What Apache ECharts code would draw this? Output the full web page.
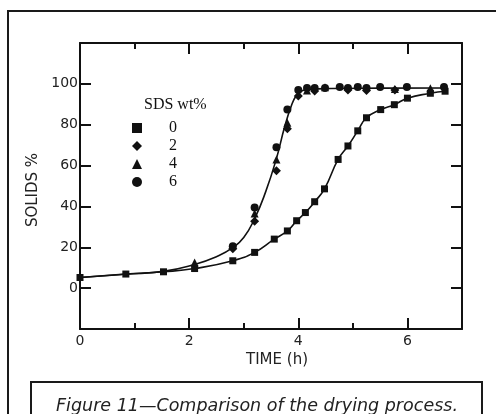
<!DOCTYPE html>
<html>
<head>
<meta charset="utf-8">
<script src="https://cdn.jsdelivr.net/npm/echarts@6/dist/echarts.min.js"></script>
<style>
html,body{margin:0;padding:0;background:#fff;}
#chart{width:496px;height:414px;}
</style>
</head>
<body>
<div id="chart"></div>
<script>
// ---- data ----
var xTicks = [0, 2, 4, 6];
var yTicks = [0, 20, 40, 60, 80, 100];
var legendTitle = 'SDS wt%';
var seriesNames = ['0', '2', '4', '6'];

// SDS 0 wt% (squares, slow drying)
var t0 = [0, 0.84, 1.53, 2.1, 2.8, 3.2, 3.56, 3.8, 3.97, 4.13, 4.3, 4.48, 4.73, 4.91, 5.09, 5.25, 5.51, 5.76, 6.0, 6.42, 6.69];
var s0 = [5.2, 6.9, 8.0, 9.6, 13.4, 17.5, 24.0, 28.0, 33.0, 37.0, 42.3, 48.6, 63.0, 69.6, 77.0, 83.4, 87.4, 89.8, 93.0, 95.4, 96.4];

// SDS 2 wt% (diamonds)
var t2 = [2.8, 3.2, 3.6, 3.8, 4.0, 4.3, 4.91, 5.25, 5.77];
var s2 = [19.3, 32.7, 57.5, 78.0, 94.0, 96.5, 97.0, 96.8, 97.0];

// SDS 4 wt% (triangles)
var t4 = [2.1, 3.2, 3.6, 3.8, 4.16, 4.49, 5.77, 6.42];
var s4 = [12.5, 36.5, 63.0, 81.0, 96.8, 98.3, 97.5, 97.8];

// SDS 6 wt% (circles)
var t6 = [2.8, 3.2, 3.6, 3.8, 4.0, 4.16, 4.3, 4.49, 4.76, 4.91, 5.09, 5.25, 5.5, 5.99, 6.67];
var s6 = [20.5, 39.5, 69.0, 87.5, 97.0, 98.0, 98.0, 98.0, 98.5, 98.0, 98.5, 98.0, 98.5, 98.5, 98.5];

// fitted curve through SDS 2/4/6 points
var tFit = [0, 0.84, 1.53, 2.1, 2.5, 2.8, 3.0, 3.2, 3.4, 3.6, 3.75, 3.87, 3.96, 4.05, 4.2, 4.6, 5.5, 6.7];
var sFit = [5.2, 6.8, 8.2, 11.6, 15.4, 19.8, 24.8, 34.0, 47.0, 63.5, 79.0, 89.0, 94.2, 96.4, 97.3, 97.7, 97.9, 98.0];

function pairs(xs, ys) { return xs.map(function (x, i) { return [x, ys[i]]; }); }

var INK = '#111111';
var chart = echarts.init(document.getElementById('chart'), null, {renderer: 'canvas'});

function xAx(extra) { return Object.assign({type: 'value', min: 0, max: 7, splitLine: {show: false}}, extra); }
function yAx(extra) { return Object.assign({type: 'value', min: -20, max: 120, interval: 20, splitLine: {show: false}}, extra); }

var option = {
  backgroundColor: '#ffffff',
  animation: false,
  grid: {left: 80, right: 34, top: 43, bottom: 85, containLabel: false},
  xAxis: [
    xAx({position: 'bottom', interval: 1,
      axisLine: {show: true, onZero: false, lineStyle: {color: INK, width: 2}},
      axisTick: {show: true, inside: true, length: 6, lineStyle: {color: INK, width: 2}},
      axisLabel: {show: true, color: '#222', fontFamily: 'DejaVu Sans', fontSize: 14, margin: 5,
        formatter: function (v) { return xTicks.indexOf(v) >= 0 ? String(v) : ''; }},
      name: 'TIME (h)', nameLocation: 'middle', nameGap: 23,
      nameTextStyle: {color: '#222', fontFamily: 'DejaVu Sans', fontSize: 15, padding: [0, 0, 0, 12]}
    }),
    xAx({position: 'bottom', interval: 2,
      axisLine: {show: false, onZero: false}, axisLabel: {show: false},
      axisTick: {show: true, inside: true, length: 11, lineStyle: {color: INK, width: 2}}
    }),
    xAx({position: 'top', interval: 1,
      axisLine: {show: true, onZero: false, lineStyle: {color: INK, width: 2}}, axisLabel: {show: false},
      axisTick: {show: true, inside: true, length: 6, lineStyle: {color: INK, width: 2}}
    }),
    xAx({position: 'top', interval: 2,
      axisLine: {show: false, onZero: false}, axisLabel: {show: false},
      axisTick: {show: true, inside: true, length: 11, lineStyle: {color: INK, width: 2}}
    })
  ],
  yAxis: [
    yAx({position: 'left',
      axisLine: {show: true, onZero: false, lineStyle: {color: INK, width: 2}},
      axisTick: {show: true, inside: true, length: 11, lineStyle: {color: INK, width: 2}},
      axisLabel: {show: true, color: '#222', fontFamily: 'DejaVu Sans', fontSize: 14, margin: 2,
        formatter: function (v) { return yTicks.indexOf(v) >= 0 ? String(v) : ''; }},
      name: 'SOLIDS %', nameLocation: 'middle', nameGap: 28, nameRotate: 90,
      nameTextStyle: {color: '#222', fontFamily: 'DejaVu Sans', fontSize: 15, padding: [0, 8, 0, 0]}
    }),
    yAx({position: 'right',
      axisLine: {show: true, onZero: false, lineStyle: {color: INK, width: 2}},
      axisTick: {show: true, inside: true, length: 11, lineStyle: {color: INK, width: 2}},
      axisLabel: {show: false}
    })
  ],
  legend: {
    orient: 'vertical', left: 127, top: 115,
    itemWidth: 10, itemHeight: 10, itemGap: 2,
    data: [
      {name: seriesNames[0], icon: 'rect'},
      {name: seriesNames[1], icon: 'diamond'},
      {name: seriesNames[2], icon: 'triangle'},
      {name: seriesNames[3], icon: 'circle'}
    ],
    itemStyle: {color: INK, opacity: 1},
    textStyle: {color: '#111', fontFamily: 'Liberation Serif', fontSize: 16, lineHeight: 16, padding: [0, 0, 0, 22]},
    selectedMode: false
  },
  graphic: [
    {type: 'rect', silent: true, shape: {x: 8, y: 11, width: 520, height: 440},
      style: {fill: 'none', stroke: '#1a1a1a', lineWidth: 2}},
    {type: 'rect', silent: true, shape: {x: 31, y: 382, width: 451, height: 80},
      style: {fill: 'none', stroke: '#1a1a1a', lineWidth: 2}},
    {type: 'text', silent: true, left: 56, top: 397,
      style: {text: 'Figure 11\u2014Comparison of the drying process.', fill: '#222',
        font: 'italic 17.5px "DejaVu Sans"'}},
    {type: 'text', silent: true, left: 144, top: 97,
      style: {text: legendTitle, fill: '#111', font: '16px "Liberation Serif"'}}
  ],
  series: [
    {name: seriesNames[0], type: 'line', xAxisIndex: 0, yAxisIndex: 0,
      data: pairs(t0, s0), smooth: 0.5,
      symbol: 'rect', symbolSize: 7, itemStyle: {color: INK, opacity: 1},
      lineStyle: {color: INK, width: 1.6}, z: 3},
    {name: 'fit', type: 'line', xAxisIndex: 0, yAxisIndex: 0,
      data: pairs(tFit, sFit), smooth: 0.5, showSymbol: false, symbol: 'none',
      lineStyle: {color: INK, width: 1.6}, z: 2},
    {name: seriesNames[1], type: 'scatter', xAxisIndex: 0, yAxisIndex: 0,
      data: pairs(t2, s2), symbol: 'diamond', symbolSize: 9, itemStyle: {color: INK, opacity: 1}, z: 4},
    {name: seriesNames[2], type: 'scatter', xAxisIndex: 0, yAxisIndex: 0,
      data: pairs(t4, s4), symbol: 'triangle', symbolSize: 8, itemStyle: {color: INK, opacity: 1}, z: 4},
    {name: seriesNames[3], type: 'scatter', xAxisIndex: 0, yAxisIndex: 0,
      data: pairs(t6, s6), symbol: 'circle', symbolSize: 8, itemStyle: {color: INK, opacity: 1}, z: 4}
  ]
};
chart.setOption(option);
</script>
</body>
</html>
